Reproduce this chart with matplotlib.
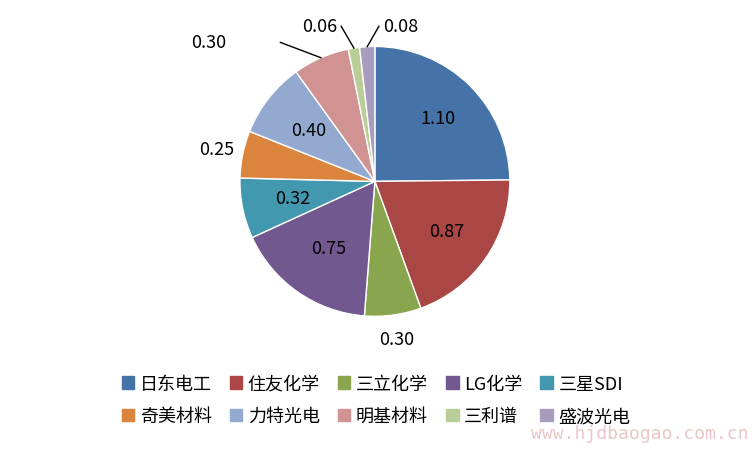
import matplotlib
matplotlib.use("Agg")
import matplotlib.pyplot as plt
import matplotlib.patches as mpatches
import numpy as np

plt.rcParams['font.family'] = ['Noto Sans CJK SC', 'DejaVu Sans']

categories = ['日东电工', '住友化学', '三立化学', 'LG化学', '三星SDI',
              '奇美材料', '力特光电', '明基材料', '三利谱', '盛波光电']
values = [1.10, 0.87, 0.30, 0.75, 0.32, 0.25, 0.40, 0.30, 0.06, 0.08]
labels = ['1.10', '0.87', '0.30', '0.75', '0.32', '0.25', '0.40', '0.30', '0.06', '0.08']
colors = ['#4572A7', '#AA4643', '#89A54E', '#71588F', '#4198AF',
          '#DB843D', '#93A9CF', '#D19392', '#B9CD96', '#A99BBD']

fig = plt.figure(figsize=(7.52, 4.52), dpi=100)
ax = fig.add_axes([0.319, 0.298, 0.359, 0.597])
wedges, _ = ax.pie(values, colors=colors, startangle=90, counterclock=False,
                   wedgeprops=dict(edgecolor='white', linewidth=1))
ax.set_xlim(-1, 1); ax.set_ylim(-1, 1); ax.set_aspect('equal')

total = sum(values)
cum = np.cumsum([0] + values[:-1])
mids = [np.deg2rad(90 - 360 * (c + v / 2) / total) for c, v in zip(cum, values)]

fs = 13
inside = {0: 0.66, 1: 0.65, 3: 0.6, 4: 0.62, 6: 0.62}
for i, r in inside.items():
    a = mids[i]
    ax.text(r * np.cos(a), r * np.sin(a), labels[i], ha='center', va='center', fontsize=fs)
for i, r in {2: 1.18, 5: 1.2}.items():
    a = mids[i]
    ax.text(r * np.cos(a), r * np.sin(a), labels[i], ha='center', va='center', fontsize=fs)
lead = {7: (-0.7, 1.03, -1.1), 8: (-0.25, 1.15, -0.28), 9: (0.03, 1.15, 0.06)}
for i, (tx, ty, lx) in lead.items():
    a = mids[i]
    ex, ey = np.cos(a), np.sin(a)
    ax.plot([ex, tx, tx + (lx - tx) * 0.0], [ey, ty, ty], color='black', lw=1, clip_on=False)
    ax.text(lx, ty, labels[i], ha='right' if lx < 0 else 'left', va='center', fontsize=fs)

order = [0, 5, 1, 6, 2, 7, 3, 8, 4, 9]
handles = [mpatches.Patch(color=colors[k]) for k in order]
fig.legend(handles, [categories[k] for k in order], ncol=5, loc='center',
           bbox_to_anchor=(0.5, 1 - 401 / 452),
           frameon=False, fontsize=fs, handlelength=0.7, handleheight=0.7,
           columnspacing=1.0, handletextpad=0.3, labelspacing=0.8)

fig.text(0.995, 0.04, 'www.hjdbaogao.com.cn', ha='right', va='center', fontsize=13,
         color='#e8b8b8', alpha=0.8, family='DejaVu Sans Mono')

fig.savefig('out.png', dpi=100)
